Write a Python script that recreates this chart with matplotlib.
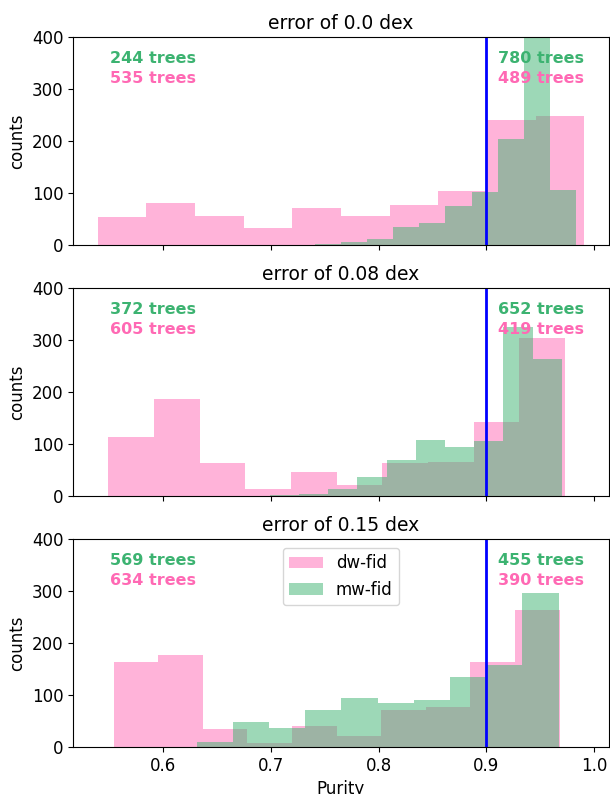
import numpy as np
import matplotlib

matplotlib.use("Agg")

import matplotlib.pyplot as plt


TITULOS = ["error of 0.0 dex", "error of 0.08 dex", "error of 0.15 dex"]

# faixa (min, max) dos 10 bins de cada histograma
FAIXA_DW = [(0.539, 0.991), (0.549, 0.973), (0.554, 0.968)]
FAIXA_MW = [(0.741, 0.983), (0.699, 0.970), (0.631, 0.967)]

CONTAGENS_DW = [
    [54, 82, 56, 34, 72, 56, 77, 104, 240, 249],
    [114, 187, 64, 14, 46, 22, 64, 66, 142, 305],
    [164, 178, 34, 8, 40, 22, 72, 78, 164, 264],
]
CONTAGENS_MW = [
    [2, 6, 12, 35, 43, 75, 102, 204, 438, 107],
    [3, 5, 13, 36, 69, 108, 95, 107, 325, 263],
    [9, 48, 36, 72, 95, 84, 90, 135, 158, 297],
]

# arvores abaixo / acima do corte de pureza
ABAIXO_MW = [244, 372, 569]
ABAIXO_DW = [535, 605, 634]
ACIMA_MW = [780, 652, 455]
ACIMA_DW = [489, 419, 390]

CORTE = 0.9
ROSA = "hotpink"
VERDE = "mediumseagreen"


def desenhar_painel(ax, i):
    bordas_dw = np.linspace(*FAIXA_DW[i], 11)
    bordas_mw = np.linspace(*FAIXA_MW[i], 11)

    ax.hist(bordas_dw[:-1], bins=bordas_dw, weights=CONTAGENS_DW[i],
            color=ROSA, alpha=0.5, label="dw-fid")
    ax.hist(bordas_mw[:-1], bins=bordas_mw, weights=CONTAGENS_MW[i],
            color=VERDE, alpha=0.5, label="mw-fid")

    ax.axvline(CORTE, color="blue", linewidth=2)

    estilo = dict(transform=ax.transAxes, fontsize=11.5, fontweight="bold", va="center")
    ax.text(0.069, 0.90, f"{ABAIXO_MW[i]} trees", color=VERDE, **estilo)
    ax.text(0.069, 0.80, f"{ABAIXO_DW[i]} trees", color=ROSA, **estilo)
    ax.text(0.794, 0.90, f"{ACIMA_MW[i]} trees", color=VERDE, **estilo)
    ax.text(0.794, 0.80, f"{ACIMA_DW[i]} trees", color=ROSA, **estilo)

    ax.set_ylim(0, 400)
    ax.set_yticks([0, 100, 200, 300, 400])
    ax.set_title(TITULOS[i], fontsize=13.5)
    ax.set_ylabel("counts", fontsize=12)
    ax.tick_params(axis="both", labelsize=12)


fig, axes = plt.subplots(3, 1, figsize=(6.1, 7.94), dpi=100, sharex=True)
fig.subplots_adjust(left=0.12, right=0.998, top=0.953, bottom=0.059, hspace=0.207)

for i, ax in enumerate(axes):
    desenhar_painel(ax, i)

axes[2].legend(loc="upper center", fontsize=12)
axes[2].set_xlabel("Purity", fontsize=12)

fig.savefig("out.png", dpi=100)
